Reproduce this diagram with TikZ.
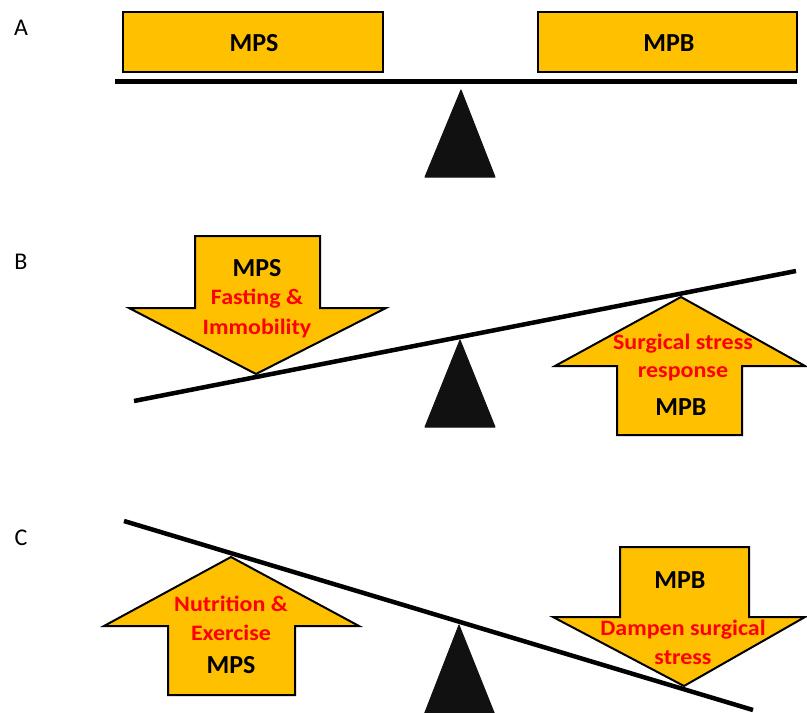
\documentclass[tikz,border=0pt]{standalone}
\usepackage{fontspec}
\setmainfont{Carlito}
\definecolor{gold}{HTML}{FFC000}
\definecolor{txtred}{HTML}{FF0000}
\definecolor{fulcrum}{HTML}{111111}
\newcommand\wide[1]{\scalebox{1.09}[1]{#1}}
\begin{document}
\begin{tikzpicture}[x=1pt,y=-1pt,
  goldshape/.style={fill=gold,draw=black,line width=2pt,line join=miter},
  beam/.style={line width=5pt},
  tri/.style={fill=fulcrum,draw=fulcrum,line width=1pt,line join=round},
  blk/.style={font=\fontsize{26}{26}\selectfont\bfseries,text=black,inner sep=0pt},
  red/.style={font=\fontsize{22}{22}\selectfont\bfseries,text=txtred,inner sep=0pt},
  panel/.style={font=\fontsize{24}{24}\selectfont,inner sep=0pt}]
\useasboundingbox (0,0) rectangle (807,713);
% labels
\node[panel] (la) at (21,28) {A};
\node[panel] (lb) at (21,262) {B};
\node[panel] (lc) at (21,538) {C};
% ---------- Panel A
\draw[goldshape] (123,12) rectangle (383,72);
\draw[goldshape] (538,12) rectangle (797,72);
\node[blk] (amps) at (254,43) {MPS};
\node[blk] (ampb) at (669,43) {MPB};
\draw[beam] (115,81) -- (797,81);
\draw[tri] (461,90) -- (495,177) -- (425,177) -- cycle;
% ---------- Panel B
\draw[goldshape] (195,236) -- (320,236) -- (320,308) -- (386,308) -- (256,374) -- (129,308) -- (195,308) -- cycle;
\draw[goldshape] (681,297) -- (805,366) -- (742,366) -- (742,435) -- (617,435) -- (617,366) -- (555,366) -- cycle;
\draw[beam,line width=4.5pt] (134,401) -- (796,271);
\draw[tri] (460,340) -- (495,427) -- (425,427) -- cycle;
\node[blk] (bmps) at (257,268) {MPS};
\node[red] (bfa) at (257,299) {\wide{Fasting \&}};
\node[red] (bim) at (257,329) {\wide{Immobility}};
\node[red] (bsu) at (683,344) {\wide{Surgical stress}};
\node[red] (bre) at (683,374) {\wide{response}};
\node[blk] (bmpb) at (681,407) {MPB};
% ---------- Panel C
\draw[goldshape] (231,557) -- (359,626) -- (295,626) -- (295,695) -- (168,695) -- (168,626) -- (104,626) -- cycle;
\draw[goldshape] (620,547) -- (749,547) -- (749,617) -- (805,617) -- (684,686) -- (553,617) -- (620,617) -- cycle;
\draw[beam,line width=4.5pt] (124,521) -- (753,710);
\draw[tri] (459,625) -- (495,715) -- (424,715) -- cycle;
\node[red] (cnu) at (231,604) {\wide{Nutrition \&}};
\node[red] (cex) at (231,633) {\wide{Exercise}};
\node[blk] (cmps) at (231,665) {MPS};
\node[blk] (cmpb) at (680,580) {MPB};
\node[red] (cda) at (683,630) {\wide{Dampen surgical}};
\node[red] (cst) at (683,658) {\wide{stress}};
\end{tikzpicture}
\end{document}
